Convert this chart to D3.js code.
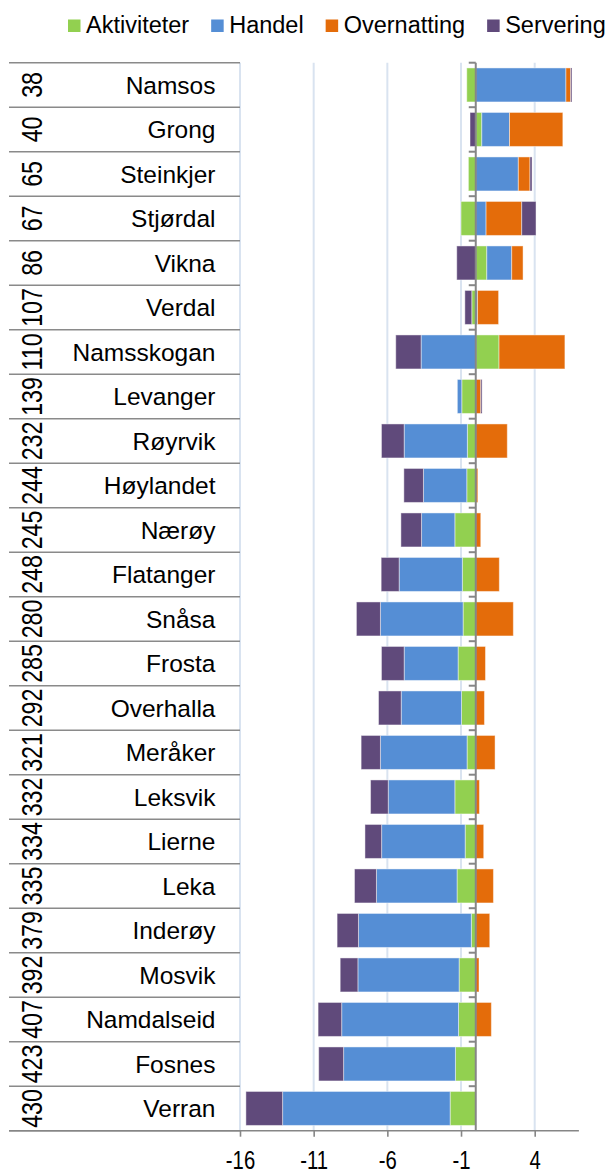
<!DOCTYPE html>
<html>
<head>
<meta charset="utf-8">
<script src="https://cdn.jsdelivr.net/npm/d3@7"></script>
<style>
  html, body { margin: 0; padding: 0; background: #ffffff; }
  svg { display: block; font-family: "Liberation Sans", Arial, sans-serif; }
</style>
</head>
<body>
<svg id="chart" width="610" height="1176"></svg>
<script>
// ---------- data ----------
const categories = ["Namsos","Grong","Steinkjer","Stjørdal","Vikna","Verdal","Namsskogan","Levanger","Røyrvik","Høylandet","Nærøy","Flatanger","Snåsa","Frosta","Overhalla","Meråker","Leksvik","Lierne","Leka","Inderøy","Mosvik","Namdalseid","Fosnes","Verran"];
const ranks = ["38","40","65","67","86","107","110","139","232","244","245","248","280","285","292","321","332","334","335","379","392","407","423","430"];
const seriesNames = ["Aktiviteter","Handel","Overnatting","Servering"];
const aktiviteter = [-0.61,0.41,-0.5,-1.0,0.75,-0.27,1.58,-0.95,-0.57,-0.61,-1.42,-0.91,-0.86,-1.2,-0.97,-0.59,-1.42,-0.72,-1.27,-0.3,-1.13,-1.17,-1.38,-1.74];
const handel      = [6.12,1.88,2.89,0.70,1.69,0.12,-3.71,-0.3,-4.29,-2.94,-2.26,-4.29,-5.61,-3.66,-4.09,-5.88,-4.52,-5.67,-5.47,-7.66,-6.87,-7.93,-7.59,-11.37];
const overnatting = [0.32,3.62,0.79,2.42,0.77,1.43,4.47,0.34,2.14,0.14,0.34,1.6,2.55,0.66,0.59,1.31,0.25,0.54,1.2,0.95,0.22,1.06,0,0];
const servering   = [0.09,-0.39,0.14,0.97,-1.29,-0.47,-1.72,0.09,-1.54,-1.33,-1.40,-1.22,-1.63,-1.54,-1.54,-1.31,-1.2,-1.13,-1.49,-1.45,-1.2,-1.6,-1.69,-2.49];
const tickValues = [-16,-11,-6,-1,4];
const tickLabels = ["-16","-11","-6","-1","4"];
const colors = ["#92d050","#558ed5","#e46c0a","#604a7b"];

// ---------- build table ----------
const rows = categories.map((c,i) => ({
  name: c, rank: ranks[i],
  Aktiviteter: aktiviteter[i], Handel: handel[i], Overnatting: overnatting[i], Servering: servering[i]
}));

const svg = d3.select("#chart");
const plotTop = 62.7, plotBottom = 1130.7;
const x = d3.scaleLinear().domain([-16, 7]).range([240, 578.9]);
const y = d3.scaleBand().domain(categories).range([plotTop, plotBottom]).paddingInner(0.236).paddingOuter(0.118);
const color = d3.scaleOrdinal().domain(seriesNames).range(colors);

// gridlines
svg.append("g").selectAll("line").data(tickValues).join("line")
  .attr("x1", d => x(d)).attr("x2", d => x(d))
  .attr("y1", plotTop).attr("y2", plotBottom)
  .attr("stroke", "#d9e3f0").attr("stroke-width", 2);

// table row lines (multi-level category axis)
const step = (plotBottom - plotTop) / categories.length;
const bounds = d3.range(categories.length + 1).map(i => plotTop + i * step);
svg.append("g").selectAll("line").data(bounds).join("line")
  .attr("x1", 9).attr("x2", 240)
  .attr("y1", d => d).attr("y2", d => d)
  .attr("stroke", "#8a8a8a").attr("stroke-width", 1.6);

// stacked bars
const stack = d3.stack().keys(seriesNames).offset(d3.stackOffsetDiverging);
const stacked = stack(rows);
svg.append("g").selectAll("g").data(stacked).join("g")
  .attr("fill", d => color(d.key))
  .selectAll("rect").data(d => d).join("rect")
  .attr("x", d => x(Math.min(d[0], d[1])))
  .attr("width", d => Math.abs(x(d[1]) - x(d[0])))
  .attr("y", d => y(d.data.name))
  .attr("height", y.bandwidth())
  .attr("stroke", "rgba(255,255,255,0.45)").attr("stroke-width", 1);

// zero (category) axis
const zx = x(0);
svg.append("line").attr("x1", zx).attr("x2", zx).attr("y1", plotTop).attr("y2", plotBottom)
  .attr("stroke", "#868686").attr("stroke-width", 2);
svg.append("g").selectAll("line").data(bounds.slice(0, -1)).join("line")
  .attr("x1", zx - 7).attr("x2", zx).attr("y1", d => d).attr("y2", d => d)
  .attr("stroke", "#868686").attr("stroke-width", 2);

// x axis
const xAxis = d3.axisBottom(x).tickValues(tickValues).tickSize(6).tickSizeOuter(0)
  .tickFormat((d, i) => tickLabels[i]);
const gx = svg.append("g").attr("transform", `translate(0,${plotBottom})`).call(xAxis);
gx.select(".domain").attr("stroke", "#868686").attr("stroke-width", 1.6)
  .attr("d", `M9,0H${x(7)}`);
gx.selectAll(".tick line").attr("stroke", "#868686").attr("stroke-width", 1.6);
gx.selectAll(".tick text")
  .attr("y", 0).attr("dy", 0)
  .attr("font-size", 26).attr("fill", "#000")
  .attr("font-family", "Liberation Sans, Arial, sans-serif")
  .attr("transform", "translate(0,38.5) scale(0.78,1)");

// category names
svg.append("g").selectAll("text").data(rows).join("text")
  .attr("x", 215.5)
  .attr("y", d => y(d.name) + y.bandwidth() / 2 + 8.8)
  .attr("text-anchor", "end")
  .attr("font-size", 24.5).attr("fill", "#000")
  .text(d => d.name);

// rank numbers (rotated)
svg.append("g").selectAll("text").data(rows).join("text")
  .attr("transform", d => `translate(41.5,${y(d.name) + y.bandwidth() / 2}) rotate(-90) scale(0.8,1)`)
  .attr("text-anchor", "middle")
  .attr("font-size", 29).attr("fill", "#000")
  .text(d => d.rank);

// legend
const legend = svg.append("g");
let lx = 68;
seriesNames.forEach((name, i) => {
  legend.append("rect").attr("x", lx).attr("y", 19.5).attr("width", 12.5).attr("height", 12.5).attr("fill", colors[i]);
  const t = legend.append("text").attr("x", lx + 18).attr("y", 33.3)
    .attr("font-size", 23.5).attr("fill", "#000").text(name);
  lx += 18 + t.node().getComputedTextLength() + 22;
});
</script>
</body>
</html>
